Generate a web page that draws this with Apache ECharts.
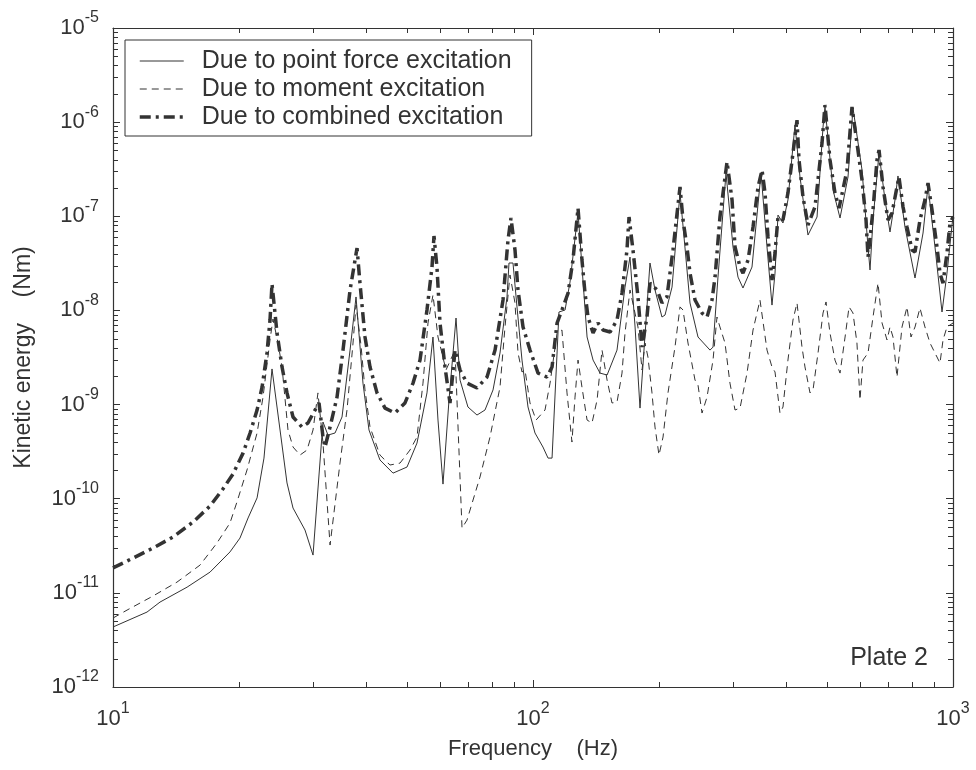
<!DOCTYPE html>
<html><head><meta charset="utf-8">
<script src="https://cdn.jsdelivr.net/npm/echarts@6/dist/echarts.min.js"></script>
<style>html,body{margin:0;padding:0;background:#fff}#c{width:976px;height:770px}</style>
</head><body><div id="c"></div>
<script>
// ---- data ----
const seriesNames = ['Due to point force excitation', 'Due to moment excitation', 'Due to combined excitation'];

const freqForce = [10, 12.05, 12.94, 15.01, 17.02, 18.99, 20.06, 20.97, 22.03, 22.88, 23.91, 25.96, 26.83, 28.65, 29.94, 31.62, 32.50, 33.78, 35.10, 36.68, 37.90, 39.37, 40.69, 43.21, 46.42, 50.12, 52.94, 55.92, 57.79, 59.40, 61.05, 63.10, 65.57, 67.03, 70.00, 73.56, 76.86, 80.32, 83.45, 86.71, 87.67, 89.61, 91.60, 94.14, 97.30, 101.1, 105.6, 108.6, 111.0, 114.1, 115.3, 119.2, 122.5, 128.0, 134.5, 139.0, 144.4, 150.1, 158.5, 165.6, 170.2, 175.0, 179.8, 189.9, 195.2, 202.8, 206.2, 214.3, 223.9, 236.5, 247.1, 263.9, 268.3, 275.7, 288.1, 299.4, 307.7, 316.2, 332.2, 349.1, 360.7, 370.7, 376.9, 383.1, 393.7, 404.6, 420.5, 432.2, 451.6, 474.5, 490.4, 495.7, 518.0, 538.3, 562.3, 578.0, 607.3, 627.6, 634.5, 645.0, 666.6, 688.9, 707.9, 727.6, 739.6, 768.6, 812.0, 848.5, 871.9, 906.0, 941.5, 967.6, 1000];
const valForce = [4.34e-12, 6.25e-12, 7.98e-12, 1.15e-11, 1.66e-11, 2.72e-11, 3.82e-11, 6.24e-11, 1.02e-10, 2.70e-10, 2.39e-9, 1.47e-10, 7.96e-11, 4.65e-11, 2.52e-11, 6.53e-10, 4.74e-10, 4.99e-10, 7.38e-10, 3.79e-9, 1.39e-8, 1.69e-9, 5.37e-10, 2.58e-10, 1.87e-10, 2.17e-10, 3.90e-10, 1.33e-9, 5.22e-9, 6.85e-10, 1.43e-10, 1.12e-9, 8.30e-9, 1.82e-9, 9.42e-10, 7.74e-10, 8.75e-10, 1.43e-9, 3.53e-9, 1.39e-8, 3.19e-8, 3.19e-8, 1.09e-8, 2.97e-9, 9.42e-10, 4.99e-10, 3.54e-10, 2.70e-10, 2.70e-10, 3.53e-9, 9.62e-9, 1.01e-8, 2.00e-8, 1.11e-7, 5.22e-9, 2.97e-9, 2.16e-9, 2.06e-9, 3.79e-9, 1.77e-8, 3.69e-8, 6.67e-9, 9.18e-10, 3.19e-8, 1.65e-8, 8.51e-9, 8.93e-9, 1.77e-8, 1.77e-7, 1.20e-8, 5.22e-9, 3.79e-9, 4.08e-9, 2.26e-8, 2.88e-7, 4.72e-8, 2.26e-8, 1.73e-8, 2.89e-8, 2.88e-7, 4.72e-8, 1.14e-8, 2.49e-8, 1.03e-7, 8.49e-8, 1.49e-7, 9.33e-7, 2.61e-7, 6.32e-8, 9.82e-8, 8.87e-7, 1.45e-6, 1.90e-7, 9.59e-8, 2.61e-7, 1.41e-6, 3.10e-7, 4.72e-8, 2.69e-8, 9.12e-8, 4.70e-7, 1.49e-7, 6.81e-8, 1.49e-7, 2.68e-7, 7.69e-8, 2.21e-8, 6.64e-8, 2.10e-7, 4.72e-8, 9.62e-9, 2.49e-8, 1.01e-7];

const freqMoment = [10, 10.80, 12.45, 14.20, 16.11, 17.68, 18.99, 19.73, 20.85, 22.03, 22.76, 23.65, 24.04, 24.71, 25.26, 26.10, 26.83, 27.88, 28.97, 29.94, 30.76, 31.62, 32.87, 34.71, 36.07, 37.28, 37.90, 38.94, 39.81, 40.92, 43.21, 45.65, 48.24, 50.95, 52.94, 54.71, 56.23, 57.79, 59.40, 62.07, 65.21, 67.76, 69.64, 74.78, 79.00, 83.45, 85.77, 88.15, 90.60, 92.11, 94.14, 95.71, 98.37, 101.7, 106.8, 109.8, 114.1, 117.2, 120.5, 123.8, 125.9, 128.0, 130.8, 134.5, 138.2, 142.1, 146.0, 150.1, 154.2, 158.5, 162.9, 165.6, 170.2, 177.8, 181.8, 184.8, 187.8, 192.0, 195.2, 199.5, 204.0, 209.6, 217.8, 223.9, 227.6, 233.9, 243.1, 247.1, 252.6, 259.6, 268.3, 274.2, 278.7, 286.5, 294.4, 302.7, 311.1, 323.3, 334.1, 347.1, 360.7, 370.7, 376.9, 387.3, 393.7, 404.6, 415.9, 425.2, 437.0, 444.2, 456.6, 464.2, 477.1, 490.4, 498.5, 509.5, 523.6, 538.3, 553.4, 565.6, 578.0, 590.6, 600.5, 610.5, 627.6, 645.0, 662.9, 677.7, 696.5, 707.9, 719.7, 735.6, 756.1, 777.2, 794.3, 812.0, 834.3, 857.5, 881.5, 906.0, 931.2, 946.7, 967.6, 1000];
const valMoment = [5.40e-12, 6.56e-12, 9.25e-12, 1.30e-11, 1.97e-11, 3.38e-11, 5.52e-11, 9.23e-11, 2.02e-10, 4.99e-10, 1.20e-9, 4.85e-9, 8.11e-9, 4.51e-9, 2.51e-9, 5.37e-10, 3.54e-10, 2.91e-10, 3.29e-10, 5.37e-10, 1.33e-9, 3.90e-10, 3.22e-11, 2.39e-10, 8.75e-10, 4.51e-9, 1.14e-8, 4.30e-9, 1.43e-9, 5.77e-10, 2.91e-10, 2.28e-10, 2.39e-10, 3.29e-10, 4.52e-10, 1.69e-9, 7.35e-9, 1.46e-8, 5.22e-9, 2.33e-9, 3.79e-9, 4.88e-11, 5.93e-11, 1.70e-10, 4.52e-10, 1.53e-9, 6.67e-9, 2.38e-8, 1.20e-8, 3.53e-9, 2.22e-9, 2.33e-9, 1.04e-9, 6.85e-10, 8.75e-10, 1.69e-9, 5.75e-9, 6.19e-9, 1.33e-9, 4.00e-10, 1.20e-9, 2.97e-9, 1.53e-9, 6.85e-10, 6.37e-10, 1.12e-9, 3.79e-9, 1.82e-9, 1.04e-9, 1.06e-9, 2.16e-9, 5.75e-9, 1.65e-8, 6.67e-9, 2.33e-9, 4.51e-9, 3.20e-9, 1.33e-9, 5.77e-10, 2.91e-10, 4.52e-10, 1.33e-9, 4.08e-9, 1.09e-8, 1.01e-8, 4.51e-9, 1.82e-9, 1.61e-9, 8.13e-10, 1.20e-9, 2.97e-9, 8.51e-9, 6.67e-9, 4.51e-9, 1.69e-9, 8.75e-10, 9.18e-10, 2.16e-9, 6.19e-9, 1.29e-8, 3.79e-9, 2.51e-9, 2.22e-9, 8.13e-10, 9.42e-10, 2.97e-9, 7.91e-9, 1.20e-8, 4.08e-9, 2.51e-9, 1.33e-9, 1.43e-9, 3.53e-9, 9.38e-9, 1.23e-8, 5.75e-9, 2.97e-9, 2.16e-9, 5.22e-9, 1.09e-8, 9.38e-9, 4.51e-9, 1.12e-9, 2.97e-9, 3.53e-9, 8.51e-9, 1.95e-8, 7.35e-9, 4.85e-9, 6.67e-9, 5.22e-9, 1.96e-9, 6.67e-9, 1.09e-8, 5.22e-9, 6.67e-9, 1.06e-8, 6.67e-9, 4.51e-9, 3.53e-9, 2.76e-9, 4.85e-9, 6.67e-9, 7.35e-9];

const freqCombined = [10, 11.16, 12.45, 13.89, 15.51, 17.02, 18.27, 19.31, 20.40, 21.20, 22.03, 22.64, 23.26, 23.65, 23.91, 24.58, 25.26, 25.96, 26.83, 28.18, 29.12, 30.27, 30.94, 31.62, 31.97, 32.87, 34.15, 35.29, 36.68, 38.11, 38.73, 39.81, 40.92, 42.52, 44.43, 46.92, 49.57, 51.80, 53.83, 55.92, 57.48, 58.11, 59.07, 60.06, 61.73, 63.44, 65.21, 67.03, 69.64, 73.56, 77.72, 81.22, 84.84, 87.19, 88.63, 90.60, 92.11, 94.67, 98.37, 102.8, 108.0, 111.0, 114.1, 117.2, 121.2, 124.5, 128.0, 130.8, 133.0, 135.2, 139.0, 142.8, 146.8, 152.6, 158.5, 162.9, 167.4, 169.3, 173.0, 177.8, 181.8, 186.8, 189.9, 197.4, 202.8, 208.4, 215.4, 223.9, 227.6, 232.6, 236.5, 243.1, 252.6, 259.6, 266.8, 271.3, 278.7, 289.7, 297.8, 302.7, 311.1, 316.2, 325.1, 334.1, 343.4, 351.0, 356.8, 362.7, 370.7, 376.9, 383.1, 393.7, 404.6, 415.9, 425.2, 429.9, 439.4, 451.6, 469.3, 487.7, 495.7, 509.5, 523.6, 535.4, 559.3, 574.8, 590.6, 607.3, 620.8, 627.6, 645.0, 659.2, 666.6, 681.3, 700.2, 715.8, 735.6, 743.6, 760.3, 777.2, 798.7, 812.0, 834.3, 857.5, 871.9, 891.3, 916.0, 931.2, 946.7, 967.6, 983.7, 1000];
const valCombined = [1.84e-11, 2.34e-11, 2.99e-11, 3.92e-11, 5.65e-11, 8.36e-11, 1.27e-10, 1.83e-10, 3.05e-10, 4.99e-10, 8.75e-10, 1.53e-9, 3.53e-9, 7.91e-9, 1.91e-8, 5.75e-9, 2.51e-9, 1.33e-9, 7.38e-10, 5.77e-10, 6.37e-10, 8.75e-10, 1.04e-9, 4.52e-10, 3.54e-10, 5.77e-10, 1.20e-9, 3.79e-9, 1.65e-8, 4.60e-8, 1.95e-8, 5.22e-9, 2.51e-9, 1.33e-9, 9.18e-10, 8.13e-10, 1.04e-9, 1.69e-9, 2.97e-9, 1.01e-8, 2.89e-8, 6.17e-8, 2.89e-8, 7.35e-9, 2.51e-9, 1.04e-9, 3.79e-9, 2.33e-9, 1.69e-9, 1.50e-9, 1.96e-9, 3.79e-9, 1.29e-8, 5.60e-8, 9.59e-8, 4.39e-8, 1.65e-8, 6.67e-9, 3.79e-9, 2.16e-9, 1.96e-9, 2.51e-9, 7.35e-9, 1.01e-8, 1.53e-8, 3.43e-8, 1.22e-7, 3.43e-8, 1.53e-8, 8.51e-9, 5.75e-9, 7.35e-9, 6.19e-9, 5.90e-9, 7.91e-9, 1.53e-8, 4.39e-8, 9.82e-8, 4.39e-8, 1.39e-8, 4.08e-9, 8.51e-9, 1.95e-8, 1.65e-8, 1.20e-8, 1.39e-8, 4.39e-8, 2.05e-7, 9.12e-8, 4.72e-8, 2.49e-8, 1.29e-8, 9.38e-9, 8.51e-9, 1.29e-8, 2.26e-8, 9.82e-8, 3.78e-7, 1.49e-7, 4.72e-8, 2.89e-8, 2.49e-8, 3.43e-8, 7.69e-8, 2.05e-7, 3.10e-7, 1.77e-7, 6.03e-8, 2.10e-8, 4.07e-8, 9.82e-8, 9.12e-8, 1.77e-7, 4.70e-7, 1.05e-6, 3.96e-7, 1.60e-7, 8.07e-8, 1.26e-7, 6.00e-7, 1.52e-6, 3.96e-7, 1.77e-7, 1.22e-7, 3.10e-7, 1.45e-6, 6.00e-7, 2.43e-7, 9.12e-8, 3.69e-8, 1.17e-7, 3.96e-7, 5.06e-7, 2.05e-7, 9.12e-8, 1.08e-7, 2.05e-7, 2.61e-7, 1.26e-7, 7.69e-8, 4.39e-8, 4.17e-8, 9.12e-8, 1.49e-7, 2.25e-7, 1.17e-7, 4.72e-8, 2.49e-8, 1.95e-8, 4.07e-8, 8.49e-8, 9.82e-8];

// axis ranges and tick values
const xRange = [10, 1000];
const yRange = [1e-12, 1e-5];
const minorMultipliers = [2, 3, 4, 5, 6, 7, 8, 9];
const xDecades = [10, 100];
const yDecades = [1e-12, 1e-11, 1e-10, 1e-9, 1e-8, 1e-7, 1e-6];
const xAxisTitle = 'Frequency    (Hz)';
const yAxisTitle = 'Kinetic energy    (Nm)';
const plateLabel = 'Plate 2';

// ---- chart ----
const FONT = '"Liberation Sans", Arial, Helvetica, sans-serif';
const INK = '#333';
const xMinor = [];
xDecades.forEach(d => minorMultipliers.forEach(m => xMinor.push(d * m)));
const yMinor = [];
yDecades.forEach(d => minorMultipliers.forEach(m => yMinor.push(d * m)));

const pairs = (xs, ys) => xs.map((x, i) => [x, ys[i]]);

const richLabel = {
  b: { fontSize: 22, fontFamily: FONT, color: INK, lineHeight: 36 },
  s: { fontSize: 16, fontFamily: FONT, color: INK, lineHeight: 12, verticalAlign: 'top' }
};
const powLabel = v => '{b|10}{s|' + Math.round(Math.log10(v)) + '}';

function minorTicks(values, isX) {
  return {
    type: 'custom', silent: true, clip: false, z: 5,
    xAxisIndex: 0, yAxisIndex: 0,
    data: values.map(v => isX ? [v, yRange[0]] : [xRange[0], v]),
    renderItem: (params, api) => {
      const cs = params.coordSys;
      const p = api.coord([api.value(0), api.value(1)]);
      const st = { stroke: INK, lineWidth: 1 };
      const L = 5;
      if (isX) {
        const x = Math.round(p[0]) + 0.5;
        return { type: 'group', children: [
          { type: 'line', shape: { x1: x, y1: cs.y + cs.height, x2: x, y2: cs.y + cs.height - L }, style: st },
          { type: 'line', shape: { x1: x, y1: cs.y, x2: x, y2: cs.y + L }, style: st }
        ]};
      }
      const y = Math.round(p[1]) + 0.5;
      return { type: 'group', children: [
        { type: 'line', shape: { x1: cs.x, y1: y, x2: cs.x + L, y2: y }, style: st },
        { type: 'line', shape: { x1: cs.x + cs.width, y1: y, x2: cs.x + cs.width - L, y2: y }, style: st }
      ]};
    }
  };
}

const axisCommon = {
  type: 'log', logBase: 10,
  axisLine: { show: true, lineStyle: { color: INK, width: 1.2 } },
  axisTick: { show: true, inside: true, length: 7, lineStyle: { color: INK } },
  splitLine: { show: false },
  minorTick: { show: false }
};

const styles = [
  { color: INK, width: 1 },
  { color: INK, width: 1, type: [7, 5] },
  { color: INK, width: 3.5, type: [11, 5, 3, 5] }
];

const chart = echarts.init(document.getElementById('c'), null, { renderer: 'canvas' });
chart.setOption({
  animation: false,
  backgroundColor: '#fff',
  grid: { left: 113, right: 23, top: 28, bottom: 83, containLabel: false, outerBoundsMode: 'none' },
  xAxis: [
    Object.assign({}, axisCommon, {
      min: xRange[0], max: xRange[1], position: 'bottom',
      axisLabel: { formatter: powLabel, rich: richLabel, margin: 14 },
      name: xAxisTitle, nameLocation: 'middle', nameGap: 51,
      nameTextStyle: { fontSize: 22, fontFamily: FONT, color: INK }
    }),
    Object.assign({}, axisCommon, {
      min: xRange[0], max: xRange[1], position: 'top', axisLabel: { show: false }
    })
  ],
  yAxis: [
    Object.assign({}, axisCommon, {
      min: yRange[0], max: yRange[1], position: 'left',
      axisLabel: { formatter: powLabel, rich: richLabel, margin: 14 },
      name: yAxisTitle, nameLocation: 'middle', nameGap: 78, nameRotate: 90,
      nameTextStyle: { fontSize: 23, fontFamily: FONT, color: INK }
    }),
    Object.assign({}, axisCommon, {
      min: yRange[0], max: yRange[1], position: 'right', axisLabel: { show: false }
    })
  ],
  legend: {
    data: seriesNames.map((n, i) => ({ name: n, lineStyle: styles[i], itemStyle: { opacity: 0 } })),
    orient: 'vertical', left: 125, top: 40,
    backgroundColor: '#fff', borderColor: INK, borderWidth: 1, borderRadius: 0,
    padding: [7, 20, 5, 13], itemGap: 0, itemWidth: 44, itemHeight: 14,
    selectedMode: false,
    itemStyle: { opacity: 0 },
    textStyle: { fontSize: 25, fontFamily: FONT, color: INK, padding: [0, 0, 0, 13], lineHeight: 28 }
  },
  graphic: [{
    type: 'text', right: 48, top: 646, z: 10,
    style: { text: plateLabel, fontSize: 25, fontFamily: FONT, fill: INK }
  }],
  series: [
    {
      name: seriesNames[0], type: 'line', symbol: 'none', color: INK, z: 3,
      data: pairs(freqForce, valForce), lineStyle: styles[0]
    },
    {
      name: seriesNames[1], type: 'line', symbol: 'none', color: INK, z: 3,
      data: pairs(freqMoment, valMoment), lineStyle: styles[1]
    },
    {
      name: seriesNames[2], type: 'line', symbol: 'none', color: INK, z: 4,
      data: pairs(freqCombined, valCombined), lineStyle: styles[2]
    },
    minorTicks(xMinor, true),
    minorTicks(yMinor, false)
  ]
});
</script>
</body></html>
